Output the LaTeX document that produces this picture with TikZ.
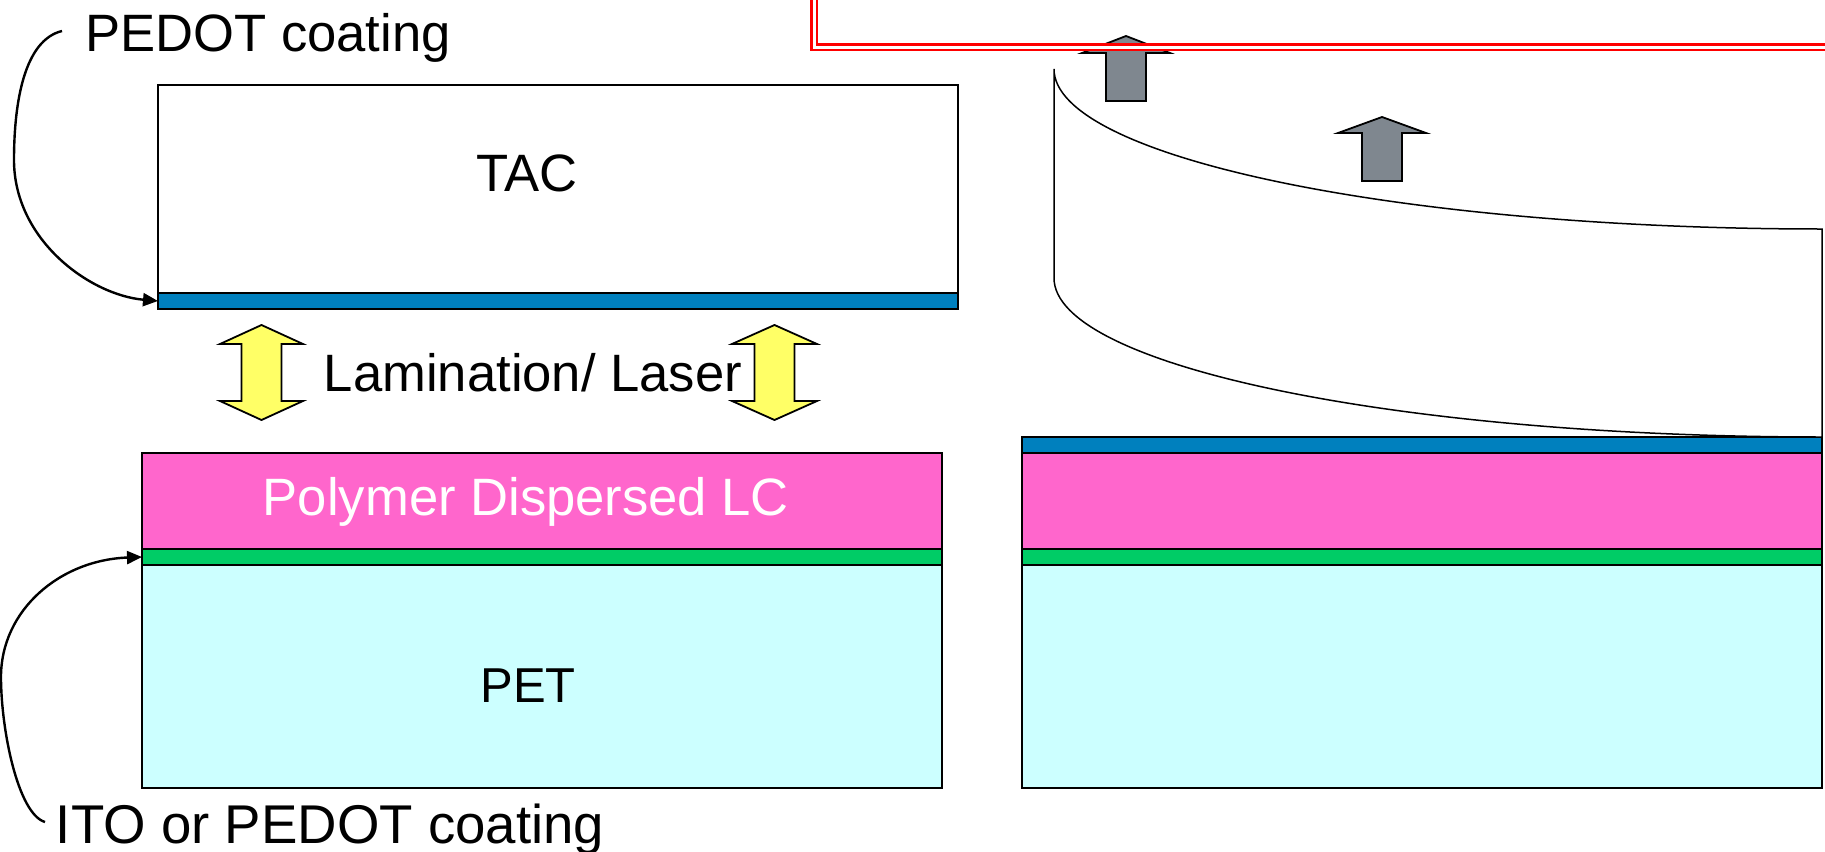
\documentclass[tikz,border=0pt]{standalone}
\usepackage{fontspec}
\setmainfont{Liberation Sans}
\usetikzlibrary{arrows.meta}
\definecolor{coatblue}{RGB}{0,128,190}
\definecolor{pdlcpink}{RGB}{255,102,204}
\definecolor{itogreen}{RGB}{0,204,102}
\definecolor{petcyan}{RGB}{204,255,255}
\definecolor{arrowyellow}{RGB}{255,255,102}
\definecolor{arrowgray}{RGB}{127,135,143}
\begin{document}
\begin{tikzpicture}[x=0.5pt,y=-0.5pt,
  layer/.style={draw=black, line width=0.9pt, inner sep=0pt, outer sep=0pt, anchor=north west, minimum width=400pt},
  lbl/.style={font=\fontsize{26.3}{30}\selectfont, inner sep=0pt, anchor=base},
  callout/.style={line width=1.2pt, -{Triangle[length=7.5pt,width=6.5pt]}},
  yarrow/.style={draw=black, fill=arrowyellow, line width=0.9pt, line join=miter},
  garrow/.style={draw=black, fill=arrowgray, line width=0.9pt, line join=miter},
  film/.style={draw=black, fill=white, line width=0.75pt},
  frame/.style={draw=red, double=white, line width=1.25pt, double distance=1.5pt}]
\useasboundingbox (0,0) rectangle (1825,851);
\clip (0,0) rectangle (1825,851);

% left top stack
\node[layer, fill=white, minimum height=104pt] (tac) at (158,85) {};
\node[layer, fill=coatblue, minimum height=8pt] (blue1) at (158,293) {};
% left bottom stack
\node[layer, fill=pdlcpink, minimum height=48pt] (pdlc) at (142,453) {};
\node[layer, fill=itogreen, minimum height=8pt] (green1) at (142,549) {};
\node[layer, fill=petcyan, minimum height=111.5pt] (pet) at (142,565) {};
% right stack
\node[layer, fill=coatblue, minimum height=8pt] (blue2) at (1022,437) {};
\node[layer, fill=pdlcpink, minimum height=48pt] (pdlc2) at (1022,453) {};
\node[layer, fill=itogreen, minimum height=8pt] (green2) at (1022,549) {};
\node[layer, fill=petcyan, minimum height=111.5pt] (pet2) at (1022,565) {};

% peeling film
\draw[film] (1054,69) -- (1054,278) .. controls (1054,366) and (1398,437) .. (1822,437)
  -- (1822,229) .. controls (1398,229) and (1054,157) .. cycle;

% yellow double arrows
\draw[yarrow] (261.5,325) -- (303,344) -- (281.5,344) -- (281.5,401) -- (303,401) -- (261.5,420)
  -- (220,401) -- (241.5,401) -- (241.5,344) -- (220,344) -- cycle;
\draw[yarrow] (774.5,325) -- (817,344) -- (794.5,344) -- (794.5,401) -- (817,401) -- (774.5,420)
  -- (732,401) -- (754.5,401) -- (754.5,344) -- (732,344) -- cycle;

% gray arrows
\draw[garrow] (1126,36) -- (1170,53) -- (1146,53) -- (1146,101) -- (1106,101) -- (1106,53) -- (1082,53) -- cycle;
\draw[garrow] (1382,117) -- (1426,133) -- (1402,133) -- (1402,181) -- (1362,181) -- (1362,133) -- (1338,133) -- cycle;

% red double frame
\draw[frame] (814,-30) -- (814,47) -- (1870,47);

% labels
\node[lbl] (tactext) at (527,191) {TAC};
\node[lbl, font=\fontsize{24.5}{28}\selectfont] (pettext) at (528,702) {PET};
\node[lbl, text=white] (pdlctext) at (526,515) {Polymer Dispersed LC};
\node[lbl] (lamtext) at (533,391) {Lamination/ Laser};
\node[lbl] (pedot) at (268,51) {PEDOT coating};
\node[lbl, font=\fontsize{27.3}{31}\selectfont] (ito) at (330,843) {ITO or PEDOT coating};

% callouts
\coordinate (c1) at (62,31);
\draw[callout] (c1) .. controls (25,40) and (14,100) .. (14,160) .. controls (14,240) and (90,295) .. (blue1.west);
\coordinate (c2) at (45,822);
\draw[callout] (c2) .. controls (18,814) and (1,730) .. (1,677) .. controls (1,610) and (60,560) .. (green1.west);
\end{tikzpicture}
\end{document}
